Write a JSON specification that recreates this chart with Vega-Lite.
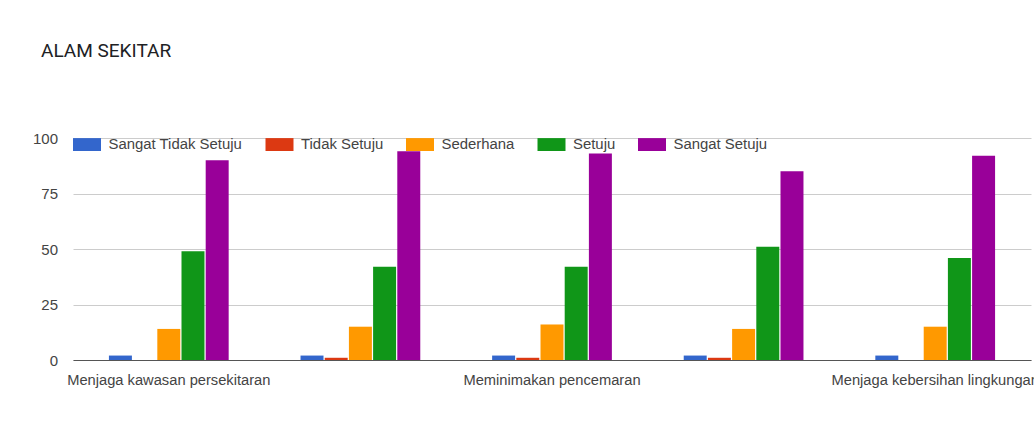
{
  "$schema": "https://vega.github.io/schema/vega-lite/v6.json",
  "autosize": {"type": "none"},
  "padding": {"left": 73, "top": 138, "right": 3, "bottom": 87},
  "width": 958,
  "height": 222,
  "background": "white",
  "title": {
    "text": "ALAM SEKITAR",
    "anchor": "start",
    "frame": "group",
    "dx": -32,
    "offset": 55,
    "baseline": "alphabetic",
    "font": "Roboto",
    "fontSize": 19,
    "fontWeight": "normal",
    "color": "#202124"
  },
  "data": {
    "values": [
      {"item": "Menjaga kawasan persekitaran", "respon": "Sangat Tidak Setuju", "nilai": 2},
      {"item": "Menjaga kawasan persekitaran", "respon": "Tidak Setuju", "nilai": 0},
      {"item": "Menjaga kawasan persekitaran", "respon": "Sederhana", "nilai": 14},
      {"item": "Menjaga kawasan persekitaran", "respon": "Setuju", "nilai": 49},
      {"item": "Menjaga kawasan persekitaran", "respon": "Sangat Setuju", "nilai": 90},
      {"item": "Mengitar semula bahan buangan", "respon": "Sangat Tidak Setuju", "nilai": 2},
      {"item": "Mengitar semula bahan buangan", "respon": "Tidak Setuju", "nilai": 1},
      {"item": "Mengitar semula bahan buangan", "respon": "Sederhana", "nilai": 15},
      {"item": "Mengitar semula bahan buangan", "respon": "Setuju", "nilai": 42},
      {"item": "Mengitar semula bahan buangan", "respon": "Sangat Setuju", "nilai": 94},
      {"item": "Meminimakan pencemaran", "respon": "Sangat Tidak Setuju", "nilai": 2},
      {"item": "Meminimakan pencemaran", "respon": "Tidak Setuju", "nilai": 1},
      {"item": "Meminimakan pencemaran", "respon": "Sederhana", "nilai": 16},
      {"item": "Meminimakan pencemaran", "respon": "Setuju", "nilai": 42},
      {"item": "Meminimakan pencemaran", "respon": "Sangat Setuju", "nilai": 93},
      {"item": "Menjimatkan penggunaan tenaga", "respon": "Sangat Tidak Setuju", "nilai": 2},
      {"item": "Menjimatkan penggunaan tenaga", "respon": "Tidak Setuju", "nilai": 1},
      {"item": "Menjimatkan penggunaan tenaga", "respon": "Sederhana", "nilai": 14},
      {"item": "Menjimatkan penggunaan tenaga", "respon": "Setuju", "nilai": 51},
      {"item": "Menjimatkan penggunaan tenaga", "respon": "Sangat Setuju", "nilai": 85},
      {"item": "Menjaga kebersihan lingkungan", "respon": "Sangat Tidak Setuju", "nilai": 2},
      {"item": "Menjaga kebersihan lingkungan", "respon": "Tidak Setuju", "nilai": 0},
      {"item": "Menjaga kebersihan lingkungan", "respon": "Sederhana", "nilai": 15},
      {"item": "Menjaga kebersihan lingkungan", "respon": "Setuju", "nilai": 46},
      {"item": "Menjaga kebersihan lingkungan", "respon": "Sangat Setuju", "nilai": 92}
    ]
  },
  "mark": {"type": "bar"},
  "encoding": {
    "x": {
      "field": "item",
      "type": "nominal",
      "sort": null,
      "scale": {"paddingInner": 0.375, "paddingOuter": 0.1875},
      "axis": {
        "title": null,
        "labelAngle": 0,
        "labelOverlap": false,
        "labelFlush": false,
        "labelLimit": 0,
        "labelExpr": "indexof(['Menjaga kawasan persekitaran','Meminimakan pencemaran','Menjaga kebersihan lingkungan'], datum.value) >= 0 ? datum.label : ''",
        "labelBaseline": "alphabetic",
        "labelPadding": 24,
        "labelFont": "Liberation Sans",
        "labelFontSize": 14.7,
        "labelColor": "#444444",
        "ticks": false,
        "tickSize": 0,
        "grid": false,
        "domain": true,
        "domainColor": "#555555",
        "domainWidth": 1
      }
    },
    "xOffset": {
      "field": "respon",
      "type": "nominal",
      "sort": ["Sangat Tidak Setuju", "Tidak Setuju", "Sederhana", "Setuju", "Sangat Setuju"],
      "scale": {"paddingInner": 0.05, "paddingOuter": 0}
    },
    "y": {
      "field": "nilai",
      "type": "quantitative",
      "scale": {"domain": [0, 100], "nice": false},
      "axis": {
        "title": null,
        "values": [0, 25, 50, 75, 100],
        "labelFont": "Liberation Sans",
        "labelFontSize": 15,
        "labelColor": "#444444",
        "labelPadding": 15.5,
        "ticks": false,
        "tickSize": 0,
        "domain": false,
        "grid": true,
        "gridColor": "#cccccc",
        "gridWidth": 1
      }
    },
    "color": {
      "field": "respon",
      "type": "nominal",
      "sort": ["Sangat Tidak Setuju", "Tidak Setuju", "Sederhana", "Setuju", "Sangat Setuju"],
      "scale": {
        "domain": ["Sangat Tidak Setuju", "Tidak Setuju", "Sederhana", "Setuju", "Sangat Setuju"],
        "range": ["#3366cc", "#dc3912", "#ff9900", "#109618", "#990099"]
      },
      "legend": {
        "title": null,
        "orient": "none",
        "legendX": 0,
        "legendY": -7.5,
        "direction": "horizontal",
        "columns": 5,
        "padding": 0,
        "symbolType": "M-1,-0.46H1V0.46H-1Z",
        "symbolSize": 784,
        "symbolStrokeWidth": 0,
        "symbolOpacity": 1,
        "labelOffset": 7.5,
        "columnPadding": 22.5,
        "labelFont": "Liberation Sans",
        "labelFontSize": 14.9,
        "labelColor": "#444444",
        "labelLimit": 0
      }
    }
  },
  "config": {
    "view": {"stroke": null}
  }
}
